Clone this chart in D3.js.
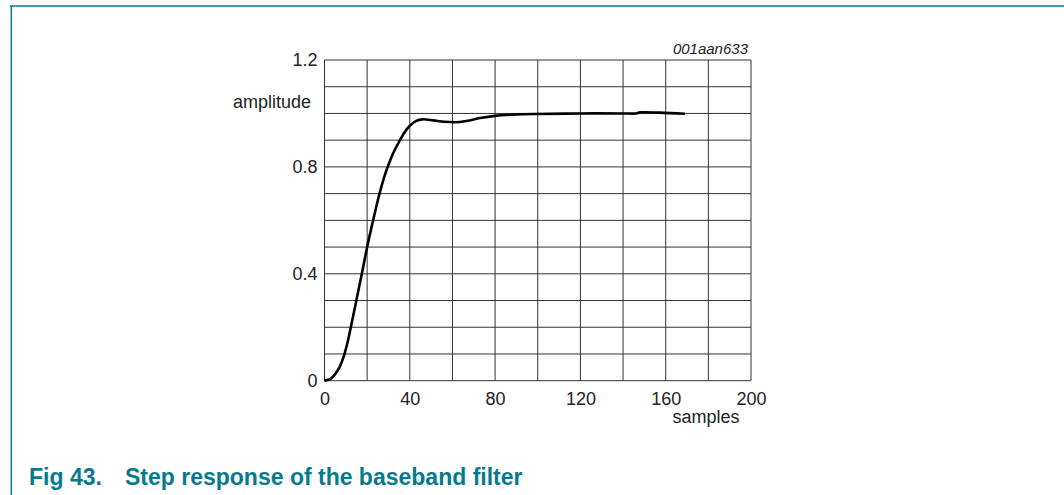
<!DOCTYPE html>
<html>
<head>
<meta charset="utf-8">
<script src="https://cdn.jsdelivr.net/npm/d3@7"></script>
<style>
  body { margin: 0; background: #fff; }
  svg { display: block; font-family: Arial, "Liberation Sans", sans-serif; }
</style>
</head>
<body>
<svg id="chart" width="1064" height="495"></svg>
<script>
// step response
var samples = [0, 3, 5, 7, 9, 11, 13, 15.2, 17.5, 20, 22.8, 25.8, 28, 30, 32.3, 35, 37.5, 40, 43, 46, 51, 56, 61, 66.6, 73, 80, 90, 100, 120, 140, 146, 148, 157, 169];
var amplitude = [0, 0.008, 0.025, 0.05, 0.09, 0.15, 0.225, 0.31, 0.40, 0.50, 0.60, 0.70, 0.762, 0.808, 0.853, 0.895, 0.929, 0.954, 0.972, 0.978, 0.974, 0.969, 0.967, 0.972, 0.983, 0.991, 0.996, 0.998, 1.0, 1.0, 1.0, 1.004, 1.003, 0.999];
var xLabels = [0, 40, 80, 120, 160, 200];
var yLabels = [0, 0.4, 0.8, 1.2];

var teal = '#057a8f';
var svg = d3.select('#chart');

// page frame
svg.append('line').attr('x1', 10).attr('y1', 6).attr('x2', 1064).attr('y2', 6)
  .attr('stroke', teal).attr('stroke-width', 1.5);
svg.append('line').attr('x1', 11.3).attr('y1', 6).attr('x2', 11.3).attr('y2', 495)
  .attr('stroke', teal).attr('stroke-width', 1.5);

var plotL = 324.5, plotR = 751, plotT = 60, plotB = 380.7;
var x = d3.scaleLinear().domain([0, 200]).range([plotL, plotR]);
var y = d3.scaleLinear().domain([0, 1.2]).range([plotB, plotT]);

var grid = svg.append('g').attr('stroke', '#333').attr('stroke-width', 1);
grid.selectAll('.v').data(d3.range(0, 201, 20)).enter().append('line')
  .attr('x1', function (d) { return x(d); }).attr('x2', function (d) { return x(d); })
  .attr('y1', plotT).attr('y2', plotB);
grid.selectAll('.h').data(d3.range(0, 13).map(function (i) { return i / 10; })).enter().append('line')
  .attr('y1', function (d) { return y(d); }).attr('y2', function (d) { return y(d); })
  .attr('x1', plotL).attr('x2', plotR);

var font = 'Arial, "Liberation Sans", sans-serif';

var xAxis = d3.axisBottom(x).tickValues(xLabels).tickSize(0).tickPadding(12);
var gx = svg.append('g').attr('transform', 'translate(0,' + plotB + ')').call(xAxis);
gx.select('.domain').remove();
gx.selectAll('text').attr('font-size', 18).attr('fill', '#222').attr('font-family', font);

var yAxis = d3.axisLeft(y).tickValues(yLabels).tickSize(0).tickPadding(7)
  .tickFormat(function (d) { return d === 0 ? '0' : d3.format('.1f')(d); });
var gy = svg.append('g').attr('transform', 'translate(' + plotL + ',0)').call(yAxis);
gy.select('.domain').remove();
gy.selectAll('text').attr('font-size', 18).attr('fill', '#222').attr('font-family', font);

svg.append('text').attr('x', 311).attr('y', 108).attr('text-anchor', 'end')
  .attr('font-size', 18).attr('fill', '#222').text('amplitude');
svg.append('text').attr('x', 706).attr('y', 423).attr('text-anchor', 'middle')
  .attr('font-size', 18).attr('fill', '#222').text('samples');
svg.append('text').attr('x', 748).attr('y', 54).attr('text-anchor', 'end')
  .attr('font-size', 15).attr('font-style', 'italic').attr('fill', '#222').text('001aan633');

var line = d3.line()
  .x(function (d, i) { return x(samples[i]); })
  .y(function (d) { return y(d); })
  .curve(d3.curveCatmullRom.alpha(0.5));
svg.append('path').datum(amplitude)
  .attr('d', line).attr('fill', 'none').attr('stroke', '#000').attr('stroke-width', 2.6);

// caption
svg.append('text').attr('x', 29).attr('y', 485).attr('font-size', 23).attr('font-weight', 'bold')
  .attr('fill', teal).text('Fig 43.');
svg.append('text').attr('x', 125).attr('y', 485).attr('font-size', 23).attr('font-weight', 'bold')
  .attr('fill', teal).text('Step response of the baseband filter');
</script>
</body>
</html>
